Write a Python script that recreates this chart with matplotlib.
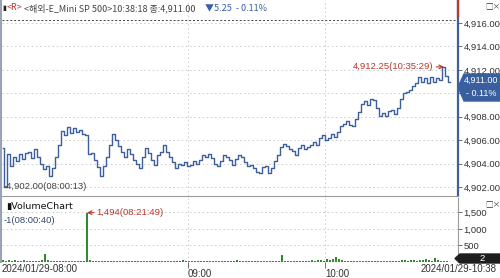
import matplotlib.pyplot as plt
from matplotlib.patches import Polygon

plt.rcParams['font.family'] = ['Liberation Sans Narrow', 'Liberation Sans', 'DejaVu Sans']

# tick-chart prices, one value per sampled tick (08:00 -> 10:38)
price = [4905.3, 4902.0, 4904.8, 4903.8, 4904.6, 4904.2, 4904.8, 4904.4, 4904.9, 4905.0,
         4904.5, 4905.2, 4904.6, 4904.0, 4903.5, 4903.8, 4902.9, 4903.6, 4904.6, 4905.6,
         4906.8, 4906.4, 4907.1, 4906.6, 4907.0, 4906.7, 4906.9, 4906.5, 4906.4, 4904.8,
         4904.9, 4904.3, 4903.7, 4902.9, 4903.8, 4904.6, 4905.6, 4906.5, 4906.0, 4905.5,
         4905.0, 4904.6, 4905.2, 4904.8, 4904.3, 4904.0, 4903.6, 4904.6, 4905.3, 4904.9,
         4904.3, 4903.9, 4904.7, 4905.0, 4905.6, 4905.0, 4904.6, 4904.1, 4903.6, 4904.0,
         4903.9, 4904.1, 4903.8, 4903.9, 4904.2, 4904.0, 4904.3, 4904.7, 4904.6, 4904.8,
         4904.5, 4904.0, 4903.8, 4904.2, 4904.7, 4904.6, 4904.3, 4903.9, 4904.4, 4904.7,
         4904.6, 4904.1, 4903.8, 4903.9, 4903.6, 4903.3, 4903.2, 4903.7, 4903.8, 4903.2,
         4903.6, 4904.2, 4904.7, 4905.4, 4905.7, 4905.5, 4905.2, 4905.1, 4904.7, 4905.3,
         4905.6, 4905.2, 4905.4, 4905.6, 4905.8, 4905.6, 4906.2, 4906.4, 4906.0, 4906.2,
         4906.5, 4906.3, 4906.7, 4907.2, 4907.4, 4907.6, 4907.3, 4907.2, 4907.8, 4908.4,
         4909.1, 4909.3, 4909.0, 4909.5, 4909.4, 4908.7, 4908.1, 4908.3, 4908.1, 4908.5,
         4908.6, 4908.2, 4908.7, 4909.5, 4910.0, 4910.1, 4910.3, 4910.6, 4910.9, 4911.4,
         4911.0, 4911.3, 4910.9, 4911.4, 4911.0, 4911.3, 4911.1, 4912.25, 4911.5, 4911.0]

volume = [60, 40, 70, 30, 50, 45, 25, 60, 35, 20,
          30, 25, 40, 50, 240, 60, 30, 20, 35, 25,
          20, 30, 25, 40, 30, 20, 35, 40, 1494, 60,
          25, 20, 30, 15, 25, 40, 20, 15, 30, 25,
          15, 20, 25, 20, 30, 15, 20, 25, 40, 20,
          15, 30, 20, 25, 20, 35, 25, 30, 20, 25,
          60, 30, 20, 25, 15, 20, 30, 25, 40, 20,
          25, 30, 35, 20, 15, 25, 30, 20, 60, 35,
          25, 30, 40, 35, 25, 20, 30, 25, 20, 30,
          25, 30, 35, 200, 40, 30, 25, 20, 30, 35,
          40, 30, 45, 60, 35, 50, 70, 40, 90, 60,
          100, 140, 80, 60, 45, 35, 40, 30, 25, 30,
          40, 20, 30, 25, 35, 20, 30, 25, 40, 35,
          30, 45, 40, 70, 50, 45, 60, 55, 40, 70,
          50, 80, 60, 45, 110, 70, 40, 30, 20, 2]

hour_labels = ["09:00", "10:00"]
hour_idx = [61.7, 107.3]
first_label = "2024/01/29-08:00"
last_label = "2024/01/29-10:38"
prev_close = 4916.25
price_ticks = [4902, 4904, 4906, 4908, 4910, 4912, 4914, 4916]
vol_ticks = [500, 1000, 1500]

BLUE = "#3d5f9b"
RED = "#b5382c"
GRID = "#c8c8c8"
TXT = "#333333"
FS = 6.8

idx = list(range(len(price)))
hi = max(price)
hi_i = price.index(hi)
lo = min(price)
lo_i = price.index(lo)
vmax = max(volume)
vmax_i = volume.index(vmax)

fig = plt.figure(figsize=(5, 2.78), dpi=100)
ax_p = fig.add_axes([0.004, 0.295, 0.912, 0.705])
ax_v = fig.add_axes([0.004, 0.0576, 0.912, 0.2305])

xl = (-0.33, 151.67)

# price panel
ax_p.plot(idx, price, drawstyle="steps-mid", color=BLUE, lw=1.0)
ax_p.axhline(prev_close, color="#444444", lw=0.7, ls=(0, (2, 2)))
for t in price_ticks:
    ax_p.axhline(t, color=GRID, lw=0.6, ls=(0, (2, 3)), zorder=0)
for h in hour_idx:
    ax_p.axvline(h, color=GRID, lw=0.6, ls=(0, (2, 3)), zorder=0)
ax_p.set_xlim(xl)
ax_p.set_ylim(4901.23, 4917.96)
ax_p.set_xticks([])
ax_p.yaxis.tick_right()
ax_p.set_yticks(price_ticks)
ax_p.set_yticklabels([f"{t:,.2f}" for t in price_ticks])
ax_p.tick_params(axis="y", length=3, width=0.6, color="#555555", labelsize=FS,
                 labelcolor=TXT, pad=1)
for s in ["top", "left"]:
    ax_p.spines[s].set_visible(False)
ax_p.spines["right"].set_color(BLUE)
ax_p.spines["right"].set_linewidth(1.6)
ax_p.spines["bottom"].set_color("#9a9a9a")
ax_p.spines["bottom"].set_linewidth(0.8)

ax_p.annotate(f"{hi:,.2f}(10:35:29)", xy=(hi_i, hi), xytext=(hi_i - 3.5, hi),
              ha="right", va="center", fontsize=FS, color=RED,
              arrowprops=dict(arrowstyle="->", color=RED, lw=0.8, shrinkA=0, shrinkB=0))
ax_p.text(lo_i - 0.9, lo, f"-{lo:,.2f}(08:00:13)", ha="left", va="center",
          fontsize=FS, color="#444444")

# volume panel
ax_v.bar(idx, volume, width=0.4, color="#2e8b2e", linewidth=0)
for t in vol_ticks:
    ax_v.axhline(t, color=GRID, lw=0.6, ls=(0, (2, 3)), zorder=0)
for h in hour_idx:
    ax_v.axvline(h, color=GRID, lw=0.6, ls=(0, (2, 3)), zorder=0)
ax_v.axhline(0, color="#2e8b2e", lw=0.8)
ax_v.set_xlim(xl)
ax_v.set_ylim(0, 1940)
ax_v.yaxis.tick_right()
ax_v.set_yticks(vol_ticks)
ax_v.set_yticklabels([f"{t:,}" for t in vol_ticks])
ax_v.tick_params(axis="y", length=3, width=0.6, color="#555555", labelsize=FS,
                 labelcolor=TXT, pad=1)
ax_v.set_xticks(hour_idx)
ax_v.set_xticklabels(hour_labels, ha="left")
ax_v.tick_params(axis="x", length=4, width=0.6, color="#555555", labelsize=7,
                 labelcolor=TXT, pad=1)
for s in ["top", "left", "bottom"]:
    ax_v.spines[s].set_visible(False)
ax_v.spines["right"].set_color("#9a9a9a")
ax_v.text(0.0, -0.03, first_label, transform=ax_v.transAxes, ha="left", va="top",
          fontsize=7, color=TXT)
fig.text(0.994, 0.0576 - 0.0065, last_label, ha="right", va="top", fontsize=7, color=TXT)
ax_v.text(0.008, 0.86, "▮VolumeChart", transform=ax_v.transAxes, ha="left", va="center",
          fontsize=FS, color="#111111", family=["Liberation Sans Narrow", "DejaVu Sans"])
ax_v.text(0.3, 1270, "-1(08:00:40)", ha="left", va="center", fontsize=FS, color="#3a4a6a")
ax_v.annotate(f"{vmax:,}(08:21:49)", xy=(vmax_i, vmax), xytext=(vmax_i + 3.2, vmax),
              ha="left", va="center", fontsize=FS, color=RED,
              arrowprops=dict(arrowstyle="->", color=RED, lw=0.8, shrinkA=0, shrinkB=0))

# overlay in pixel coordinates for chart-window decorations
ov = fig.add_axes([0, 0, 1, 1], zorder=5)
ov.set_xlim(0, 500)
ov.set_ylim(278, 0)
ov.axis("off")
ov.patch.set_alpha(0)
ov.plot([0.8, 0.8], [0, 262], color="#9aa3b5", lw=1.5)
ov.plot([458, 458], [1, 17], color=RED, lw=1.6)

hdr = ["Noto Sans CJK KR", "DejaVu Sans"]
ov.text(2, 8, "▮", fontsize=5, color="#222222", va="center", family=hdr)
ov.text(7, 8, "<R>", fontsize=6.5, color=RED, va="center", family=hdr)
ov.text(24, 8, "<해외-E_Mini SP 500>10:38:18 종:4,911.00", fontsize=6.5, color="#444444",
        va="center", family=hdr)
ov.text(205, 8, "▼5.25  - 0.11%", fontsize=6.5, color="#3b5fa5", va="center", family=hdr)
for yy in (6, 204):
    ov.text(485, yy, "□×", fontsize=5.5, color="#333333", va="center", family=hdr)

ov.add_patch(Polygon([(458, 87), (464, 74), (500, 74), (500, 101), (464, 101)],
                     closed=True, color="#3a5f9f"))
ov.text(481, 80.5, f"{price[-1]:,.2f}", color="white", fontsize=6.5, ha="center", va="center")
ov.text(481, 94, "- 0.11%", color="white", fontsize=6.5, ha="center", va="center")
ov.add_patch(Polygon([(455, 258.5), (460, 254), (500, 254), (500, 263), (460, 263)],
                     closed=True, color="#1e1e1e"))
ov.text(482, 258.5, f"{volume[-1]}", color="white", fontsize=FS, ha="center", va="center")

fig.savefig("out.png", dpi=100)
